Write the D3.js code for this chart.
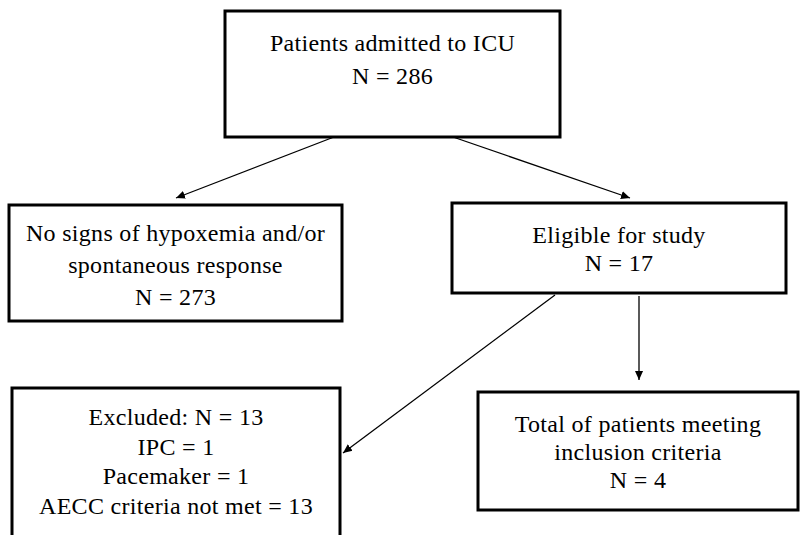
<!DOCTYPE html>
<html>
<head>
<meta charset="utf-8">
<script src="https://cdn.jsdelivr.net/npm/d3@7"></script>
<style>
  body { margin: 0; background: #fff; }
  text { font-family: 'Liberation Serif', 'DejaVu Serif', serif; fill: #000; }
</style>
</head>
<body>
<svg id="chart" width="800" height="535"></svg>
<script>
// box texts (each entry is one box, one string per line)
const boxLabels = [
    ['Patients admitted to ICU', 'N = 286'],
    ['No signs of hypoxemia and/or', 'spontaneous response', 'N = 273'],
    ['Eligible for study', 'N = 17'],
    ['Excluded: N = 13', 'IPC = 1', 'Pacemaker = 1', 'AECC criteria not met = 13'],
    ['Total of patients meeting', 'inclusion criteria', 'N = 4']
];

// which box points to which
const linkFrom = [0, 0, 2, 2];
const linkTo = [1, 2, 3, 4];

// layout, in page units
const boxLeft = [225, 9, 452, 12, 478];
const boxRight = [560, 342, 786, 340, 798];
const boxTop = [11, 205, 203, 388, 392];
const boxBottom = [137, 321, 293, 545, 510];
const firstLine = [43, 233, 235, 417, 424];
const lineGap = [33, 32, 28, 29.5, 28];

const arrowStart = [[334, 137], [453, 137], [555, 295], [639, 296]];
const arrowEnd = [[176, 198], [630, 198], [343, 453], [639, 380]];

const svg = d3.select('#chart');
const width = 800;
const height = 535;

const x = d3.scaleLinear().domain([0, 800]).range([0, width]);
const y = d3.scaleLinear().domain([0, 535]).range([0, height]);

svg.append('defs')
    .append('marker')
    .attr('id', 'head')
    .attr('viewBox', '0 -5 10 10')
    .attr('refX', 10)
    .attr('refY', 0)
    .attr('markerUnits', 'userSpaceOnUse')
    .attr('markerWidth', 9)
    .attr('markerHeight', 9)
    .attr('orient', 'auto')
    .append('path')
    .attr('d', 'M0,-4.5L10,0L0,4.5Z')
    .attr('fill', '#000');

const boxes = svg.selectAll('g.box')
    .data(boxLabels)
    .enter()
    .append('g')
    .attr('class', 'box');

boxes.append('rect')
    .attr('x', (d, i) => x(boxLeft[i]))
    .attr('y', (d, i) => y(boxTop[i]))
    .attr('width', (d, i) => x(boxRight[i]) - x(boxLeft[i]))
    .attr('height', (d, i) => y(boxBottom[i]) - y(boxTop[i]))
    .attr('fill', '#fff')
    .attr('stroke', '#000')
    .attr('stroke-width', 3);

boxes.each(function (lines, i) {
    const cx = x((boxLeft[i] + boxRight[i]) / 2);
    d3.select(this).selectAll('text')
        .data(lines)
        .enter()
        .append('text')
        .attr('x', cx)
        .attr('y', (l, j) => y(firstLine[i] + j * lineGap[i]))
        .attr('dy', '0.34em')
        .attr('text-anchor', 'middle')
        .style('font-size', '24px')
        .style('letter-spacing', '0.3px')
        .text(l => l);
});

svg.selectAll('line.link')
    .data(linkFrom)
    .enter()
    .append('line')
    .attr('class', 'link')
    .attr('x1', (d, i) => x(arrowStart[i][0]))
    .attr('y1', (d, i) => y(arrowStart[i][1]))
    .attr('x2', (d, i) => x(arrowEnd[i][0]))
    .attr('y2', (d, i) => y(arrowEnd[i][1]))
    .attr('stroke', '#000')
    .attr('stroke-width', 1.3)
    .attr('marker-end', 'url(#head)');
</script>
</body>
</html>
